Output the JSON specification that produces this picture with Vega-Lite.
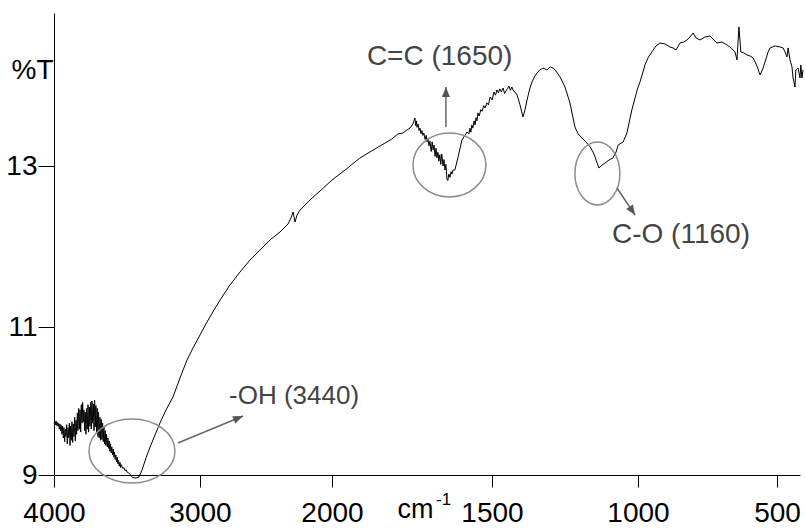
{
  "$schema": "https://vega.github.io/schema/vega-lite/v6.json",
  "width": 746,
  "height": 462,
  "autosize": {"type": "none"},
  "padding": {"left": 54, "top": 13, "right": 6, "bottom": 53},
  "background": "white",
  "config": {
    "view": {"stroke": null},
    "font": "Liberation Sans",
    "axis": {"grid": false, "domainColor": "#000", "tickColor": "#000", "labelColor": "#000", "titleColor": "#000", "labelFont": "Liberation Sans", "titleFont": "Liberation Sans", "titleFontWeight": "normal", "domainWidth": 1, "tickWidth": 1}
  },
  "datasets": {
    "spectrum": [
      {"wn":4000,"T":9.70},{"wn":3995,"T":9.72},{"wn":3990,"T":9.68},{"wn":3986,"T":9.73},{"wn":3982,"T":9.67},{"wn":3978,"T":9.71},{"wn":3973,"T":9.66},{"wn":3969,"T":9.70},{"wn":3964,"T":9.62},{"wn":3959,"T":9.69},{"wn":3955,"T":9.60},{"wn":3950,"T":9.67},{"wn":3945,"T":9.55},{"wn":3941,"T":9.66},{"wn":3936,"T":9.50},{"wn":3932,"T":9.64},{"wn":3927,"T":9.45},{"wn":3922,"T":9.62},{"wn":3918,"T":9.52},{"wn":3913,"T":9.68},{"wn":3909,"T":9.42},{"wn":3904,"T":9.64},{"wn":3900,"T":9.50},{"wn":3895,"T":9.70},{"wn":3890,"T":9.40},{"wn":3886,"T":9.66},{"wn":3881,"T":9.47},{"wn":3877,"T":9.72},{"wn":3872,"T":9.44},{"wn":3868,"T":9.69},{"wn":3863,"T":9.52},{"wn":3858,"T":9.78},{"wn":3854,"T":9.46},{"wn":3849,"T":9.74},{"wn":3845,"T":9.55},{"wn":3840,"T":9.84},{"wn":3836,"T":9.60},{"wn":3831,"T":9.90},{"wn":3826,"T":9.62},{"wn":3822,"T":9.88},{"wn":3817,"T":9.58},{"wn":3813,"T":9.95},{"wn":3808,"T":9.70},{"wn":3804,"T":9.98},{"wn":3799,"T":9.72},{"wn":3795,"T":9.88},{"wn":3790,"T":9.60},{"wn":3786,"T":9.85},{"wn":3781,"T":9.55},{"wn":3777,"T":9.90},{"wn":3772,"T":9.62},{"wn":3767,"T":9.95},{"wn":3763,"T":9.58},{"wn":3758,"T":9.92},{"wn":3754,"T":9.66},{"wn":3749,"T":9.98},{"wn":3745,"T":9.62},{"wn":3740,"T":10.0},{"wn":3736,"T":9.70},{"wn":3731,"T":9.96},{"wn":3726,"T":9.60},{"wn":3722,"T":10.01},{"wn":3717,"T":9.65},{"wn":3713,"T":9.94},{"wn":3708,"T":9.58},{"wn":3704,"T":9.90},{"wn":3699,"T":9.52},{"wn":3695,"T":9.85},{"wn":3690,"T":9.50},{"wn":3685,"T":9.78},{"wn":3681,"T":9.47},{"wn":3676,"T":9.75},{"wn":3672,"T":9.48},{"wn":3667,"T":9.70},{"wn":3663,"T":9.45},{"wn":3658,"T":9.65},{"wn":3654,"T":9.42},{"wn":3649,"T":9.60},{"wn":3645,"T":9.40},{"wn":3640,"T":9.55},{"wn":3635,"T":9.38},{"wn":3631,"T":9.50},{"wn":3626,"T":9.36},{"wn":3622,"T":9.46},{"wn":3617,"T":9.32},{"wn":3613,"T":9.42},{"wn":3608,"T":9.30},{"wn":3604,"T":9.38},{"wn":3599,"T":9.27},{"wn":3594,"T":9.35},{"wn":3590,"T":9.24},{"wn":3585,"T":9.31},{"wn":3581,"T":9.21},{"wn":3576,"T":9.27},{"wn":3572,"T":9.18},{"wn":3567,"T":9.24},{"wn":3562,"T":9.15},{"wn":3558,"T":9.20},{"wn":3553,"T":9.12},{"wn":3548,"T":9.17},{"wn":3544,"T":9.10},{"wn":3539,"T":9.14},{"wn":3530,"T":9.09},{"wn":3520,"T":9.10},{"wn":3514,"T":9.06},{"wn":3505,"T":9.07},{"wn":3500,"T":9.04},{"wn":3490,"T":9.03},{"wn":3479,"T":9.01},{"wn":3470,"T":8.98},{"wn":3459,"T":8.965},{"wn":3438,"T":8.959},{"wn":3418,"T":8.973},{"wn":3397,"T":9.068},{"wn":3370,"T":9.230},{"wn":3342,"T":9.378},{"wn":3308,"T":9.541},{"wn":3274,"T":9.703},{"wn":3233,"T":9.878},{"wn":3185,"T":10.054},{"wn":3137,"T":10.311},{"wn":3089,"T":10.554},{"wn":3048,"T":10.716},{"wn":3000,"T":10.892},
      {"wn":2947,"T":11.062},{"wn":2894,"T":11.211},{"wn":2848,"T":11.335},{"wn":2773,"T":11.522},{"wn":2697,"T":11.683},{"wn":2621,"T":11.832},{"wn":2545,"T":11.957},{"wn":2470,"T":12.081},{"wn":2394,"T":12.180},{"wn":2333,"T":12.280},{"wn":2311,"T":12.354},{"wn":2295,"T":12.429},{"wn":2280,"T":12.304},{"wn":2265,"T":12.391},{"wn":2242,"T":12.453},{"wn":2167,"T":12.578},{"wn":2091,"T":12.689},{"wn":2000,"T":12.826},
      {"wn":1959,"T":12.950},{"wn":1913,"T":13.099},{"wn":1866,"T":13.211},{"wn":1834,"T":13.286},{"wn":1813,"T":13.335},{"wn":1794,"T":13.398},{"wn":1778,"T":13.410},{"wn":1766,"T":13.447},{"wn":1756,"T":13.472},{"wn":1747,"T":13.522},{"wn":1741,"T":13.596},{"wn":1738,"T":13.50},{"wn":1736,"T":13.56},{"wn":1734,"T":13.48},{"wn":1731,"T":13.52},{"wn":1728,"T":13.44},{"wn":1725,"T":13.47},{"wn":1722,"T":13.40},{"wn":1719,"T":13.44},{"wn":1716,"T":13.38},{"wn":1713,"T":13.41},{"wn":1709,"T":13.33},{"wn":1706,"T":13.38},{"wn":1703,"T":13.30},{"wn":1700,"T":13.34},{"wn":1697,"T":13.25},{"wn":1694,"T":13.31},{"wn":1690,"T":13.18},{"wn":1687,"T":13.30},{"wn":1684,"T":13.20},{"wn":1681,"T":13.26},{"wn":1678,"T":13.12},{"wn":1675,"T":13.22},{"wn":1672,"T":13.10},{"wn":1669,"T":13.17},{"wn":1666,"T":13.06},{"wn":1663,"T":13.14},{"wn":1660,"T":13.02},{"wn":1657,"T":13.15},{"wn":1653,"T":13.00},{"wn":1650,"T":13.08},{"wn":1647,"T":12.95},{"wn":1644,"T":13.02},{"wn":1641,"T":12.84},{"wn":1638,"T":12.82},{"wn":1635,"T":12.90},{"wn":1631,"T":12.86},{"wn":1628,"T":12.93},{"wn":1625,"T":12.90},{"wn":1622,"T":12.95},{"wn":1616,"T":12.950},{"wn":1606,"T":13.112},{"wn":1594,"T":13.323},{"wn":1584,"T":13.385},{"wn":1578,"T":13.422},{"wn":1572,"T":13.40},{"wn":1569,"T":13.47},{"wn":1566,"T":13.42},{"wn":1563,"T":13.51},{"wn":1560,"T":13.47},{"wn":1556,"T":13.56},{"wn":1553,"T":13.51},{"wn":1550,"T":13.60},{"wn":1547,"T":13.56},{"wn":1544,"T":13.66},{"wn":1540,"T":13.62},{"wn":1535,"T":13.70},{"wn":1531,"T":13.68},{"wn":1526,"T":13.75},{"wn":1522,"T":13.72},{"wn":1516,"T":13.783},{"wn":1511,"T":13.76},{"wn":1506,"T":13.857},
      {"wn":1500,"T":13.82},{"wn":1493,"T":13.919},{"wn":1488,"T":13.88},{"wn":1483,"T":13.944},{"wn":1478,"T":13.91},{"wn":1473,"T":13.957},{"wn":1468,"T":13.92},{"wn":1462,"T":13.969},{"wn":1457,"T":13.90},{"wn":1452,"T":13.932},{"wn":1447,"T":13.96},{"wn":1442,"T":13.994},{"wn":1437,"T":13.94},{"wn":1432,"T":13.981},{"wn":1426,"T":13.93},{"wn":1421,"T":13.919},{"wn":1414,"T":13.882},{"wn":1404,"T":13.758},{"wn":1394,"T":13.609},{"wn":1387,"T":13.696},{"wn":1380,"T":13.820},{"wn":1370,"T":13.969},{"wn":1363,"T":14.043},{"wn":1353,"T":14.118},{"wn":1346,"T":14.155},{"wn":1336,"T":14.193},{"wn":1325,"T":14.217},{"wn":1312,"T":14.193},{"wn":1301,"T":14.230},{"wn":1291,"T":14.217},{"wn":1281,"T":14.180},{"wn":1267,"T":14.106},{"wn":1250,"T":13.981},{"wn":1233,"T":13.783},{"wn":1216,"T":13.484},{"wn":1205,"T":13.398},{"wn":1192,"T":13.348},{"wn":1178,"T":13.298},{"wn":1164,"T":13.236},{"wn":1154,"T":13.174},{"wn":1147,"T":13.112},{"wn":1140,"T":13.037},{"wn":1134,"T":12.975},{"wn":1123,"T":13.012},{"wn":1113,"T":13.037},{"wn":1099,"T":13.075},{"wn":1086,"T":13.099},{"wn":1075,"T":13.174},{"wn":1068,"T":13.261},{"wn":1051,"T":13.298},{"wn":1038,"T":13.410},{"wn":1021,"T":13.696},{"wn":1003,"T":13.944},
      {"wn":993,"T":14.043},{"wn":982,"T":14.168},{"wn":975,"T":14.255},{"wn":964,"T":14.342},{"wn":950,"T":14.416},{"wn":935,"T":14.491},{"wn":921,"T":14.528},{"wn":903,"T":14.516},{"wn":885,"T":14.478},{"wn":874,"T":14.466},{"wn":863,"T":14.441},{"wn":849,"T":14.528},{"wn":835,"T":14.540},{"wn":824,"T":14.565},{"wn":813,"T":14.602},{"wn":802,"T":14.652},{"wn":791,"T":14.590},{"wn":777,"T":14.565},{"wn":759,"T":14.602},{"wn":741,"T":14.615},{"wn":727,"T":14.565},{"wn":716,"T":14.528},{"wn":698,"T":14.540},{"wn":680,"T":14.503},{"wn":665,"T":14.466},{"wn":651,"T":14.416},{"wn":644,"T":14.317},{"wn":637,"T":14.727},{"wn":630,"T":14.416},{"wn":619,"T":14.404},{"wn":608,"T":14.379},{"wn":597,"T":14.366},{"wn":586,"T":14.342},{"wn":572,"T":14.242},{"wn":561,"T":14.130},{"wn":550,"T":14.217},{"wn":543,"T":14.292},{"wn":532,"T":14.416},{"wn":525,"T":14.466},{"wn":507,"T":14.491},{"wn":489,"T":14.478},{"wn":478,"T":14.466},{"wn":471,"T":14.416},{"wn":464,"T":14.354},{"wn":460,"T":14.466},{"wn":453,"T":14.317},{"wn":446,"T":14.230},{"wn":442,"T":14.093},{"wn":435,"T":13.981},{"wn":432,"T":14.193},{"wn":424,"T":14.217},{"wn":417,"T":14.093},{"wn":414,"T":14.255},{"wn":410,"T":14.093},{"wn":406,"T":14.193}
    ]
  },
  "encoding": {
    "x": {
      "field": "wn", "type": "quantitative",
      "scale": {"domain": [4000, 3000, 2000, 1500, 1000, 500, 417], "range": [0, 146, 278, 438, 584, 723, 746], "nice": false, "zero": false},
      "axis": {"values": [4000, 3000, 2000, 1500, 1000, 500], "format": "d", "tickSize": 12, "labelPadding": 12, "labelFontSize": 28, "labelFlush": false, "labelOverlap": false, "labelBound": false,
        "title": "cm", "titleFontSize": 27, "titleX": 343, "titleY": 42, "titleAlign": "left", "titleBaseline": "alphabetic"}
    },
    "y": {
      "field": "T", "type": "quantitative",
      "scale": {"domain": [9, 11, 13, 14.9], "range": [462, 314, 153, 0], "nice": false, "zero": false},
      "axis": {"values": [9, 11, 13], "format": "d", "tickSize": 16, "labelPadding": 1, "labelFontSize": 28, "labelOverlap": false, "labelBaseline": "middle",
        "title": "%T", "titleFontSize": 28, "titleAngle": 0, "titleAlign": "right", "titleX": -1, "titleY": 65, "titleBaseline": "alphabetic"}
    }
  },
  "layer": [
    {
      "data": {"name": "spectrum"},
      "mark": {"type": "line", "color": "#000", "strokeWidth": 1}
    },
    {
      "data": {"values": [{"wn": 3466, "T": 9.324}]},
      "mark": {"type": "point", "shape": "M-1,0A1,0.744,0,1,0,1,0A1,0.744,0,1,0,-1,0Z", "size": 7396, "filled": false, "stroke": "#8c8c8c", "strokeWidth": 1.5, "opacity": 1}
    },
    {
      "data": {"values": [{"wn": 1633, "T": 13.012}]},
      "mark": {"type": "point", "shape": "M-1,0A1,0.877,0,1,0,1,0A1,0.877,0,1,0,-1,0Z", "size": 5329, "filled": false, "stroke": "#8c8c8c", "strokeWidth": 1.5, "opacity": 1}
    },
    {
      "data": {"values": [{"wn": 1139, "T": 12.907}]},
      "mark": {"type": "point", "shape": "M0,-1A0.714,1,0,1,0,0,1A0.714,1,0,1,0,0,-1Z", "size": 3969, "filled": false, "stroke": "#8c8c8c", "strokeWidth": 1.5, "opacity": 1}
    },
    {
      "data": {"values": [
        {"wn": 3151, "T": 9.432, "wn2": 2674, "T2": 9.797},
        {"wn": 1644, "T": 13.484, "wn2": 1644, "T2": 13.981},
        {"wn": 1072, "T": 12.727, "wn2": 1010, "T2": 12.391}
      ]},
      "mark": {"type": "rule", "color": "#666", "strokeWidth": 1.5},
      "encoding": {"x2": {"field": "wn2"}, "y2": {"field": "T2"}}
    },
    {
      "data": {"values": [{"wn": 2674, "T": 9.797}]},
      "mark": {"type": "point", "shape": "M0,0L0.4,1L-0.4,1Z", "size": 400, "filled": true, "color": "#555", "strokeWidth": 0, "opacity": 1, "angle": 67.4}
    },
    {
      "data": {"values": [{"wn": 1644, "T": 13.981}]},
      "mark": {"type": "point", "shape": "M0,0L0.4,1L-0.4,1Z", "size": 400, "filled": true, "color": "#555", "strokeWidth": 0, "opacity": 1, "angle": 0}
    },
    {
      "data": {"values": [{"wn": 1010, "T": 12.391}]},
      "mark": {"type": "point", "shape": "M0,0L0.4,1L-0.4,1Z", "size": 400, "filled": true, "color": "#555", "strokeWidth": 0, "opacity": 1, "angle": 146.3}
    },
    {
      "data": {"values": [{"wn": 2780, "T": 9.959, "label": "-OH (3440)"}]},
      "mark": {"type": "text", "align": "left", "baseline": "alphabetic", "fontSize": 26, "color": "#444", "font": "Liberation Sans"},
      "encoding": {"text": {"field": "label"}}
    },
    {
      "data": {"values": [{"wn": 1891, "T": 14.255, "label": "C=C (1650)"}, {"wn": 1089, "T": 12.043, "label": "C-O (1160)"}]},
      "mark": {"type": "text", "align": "left", "baseline": "alphabetic", "fontSize": 28, "color": "#444", "font": "Liberation Sans"},
      "encoding": {"text": {"field": "label"}}
    },
    {
      "data": {"values": [{"wn": 1675, "T": 8.595, "label": "-1"}]},
      "mark": {"type": "text", "align": "left", "baseline": "alphabetic", "fontSize": 17, "color": "#000", "font": "Liberation Sans"},
      "encoding": {"text": {"field": "label"}}
    }
  ]
}
